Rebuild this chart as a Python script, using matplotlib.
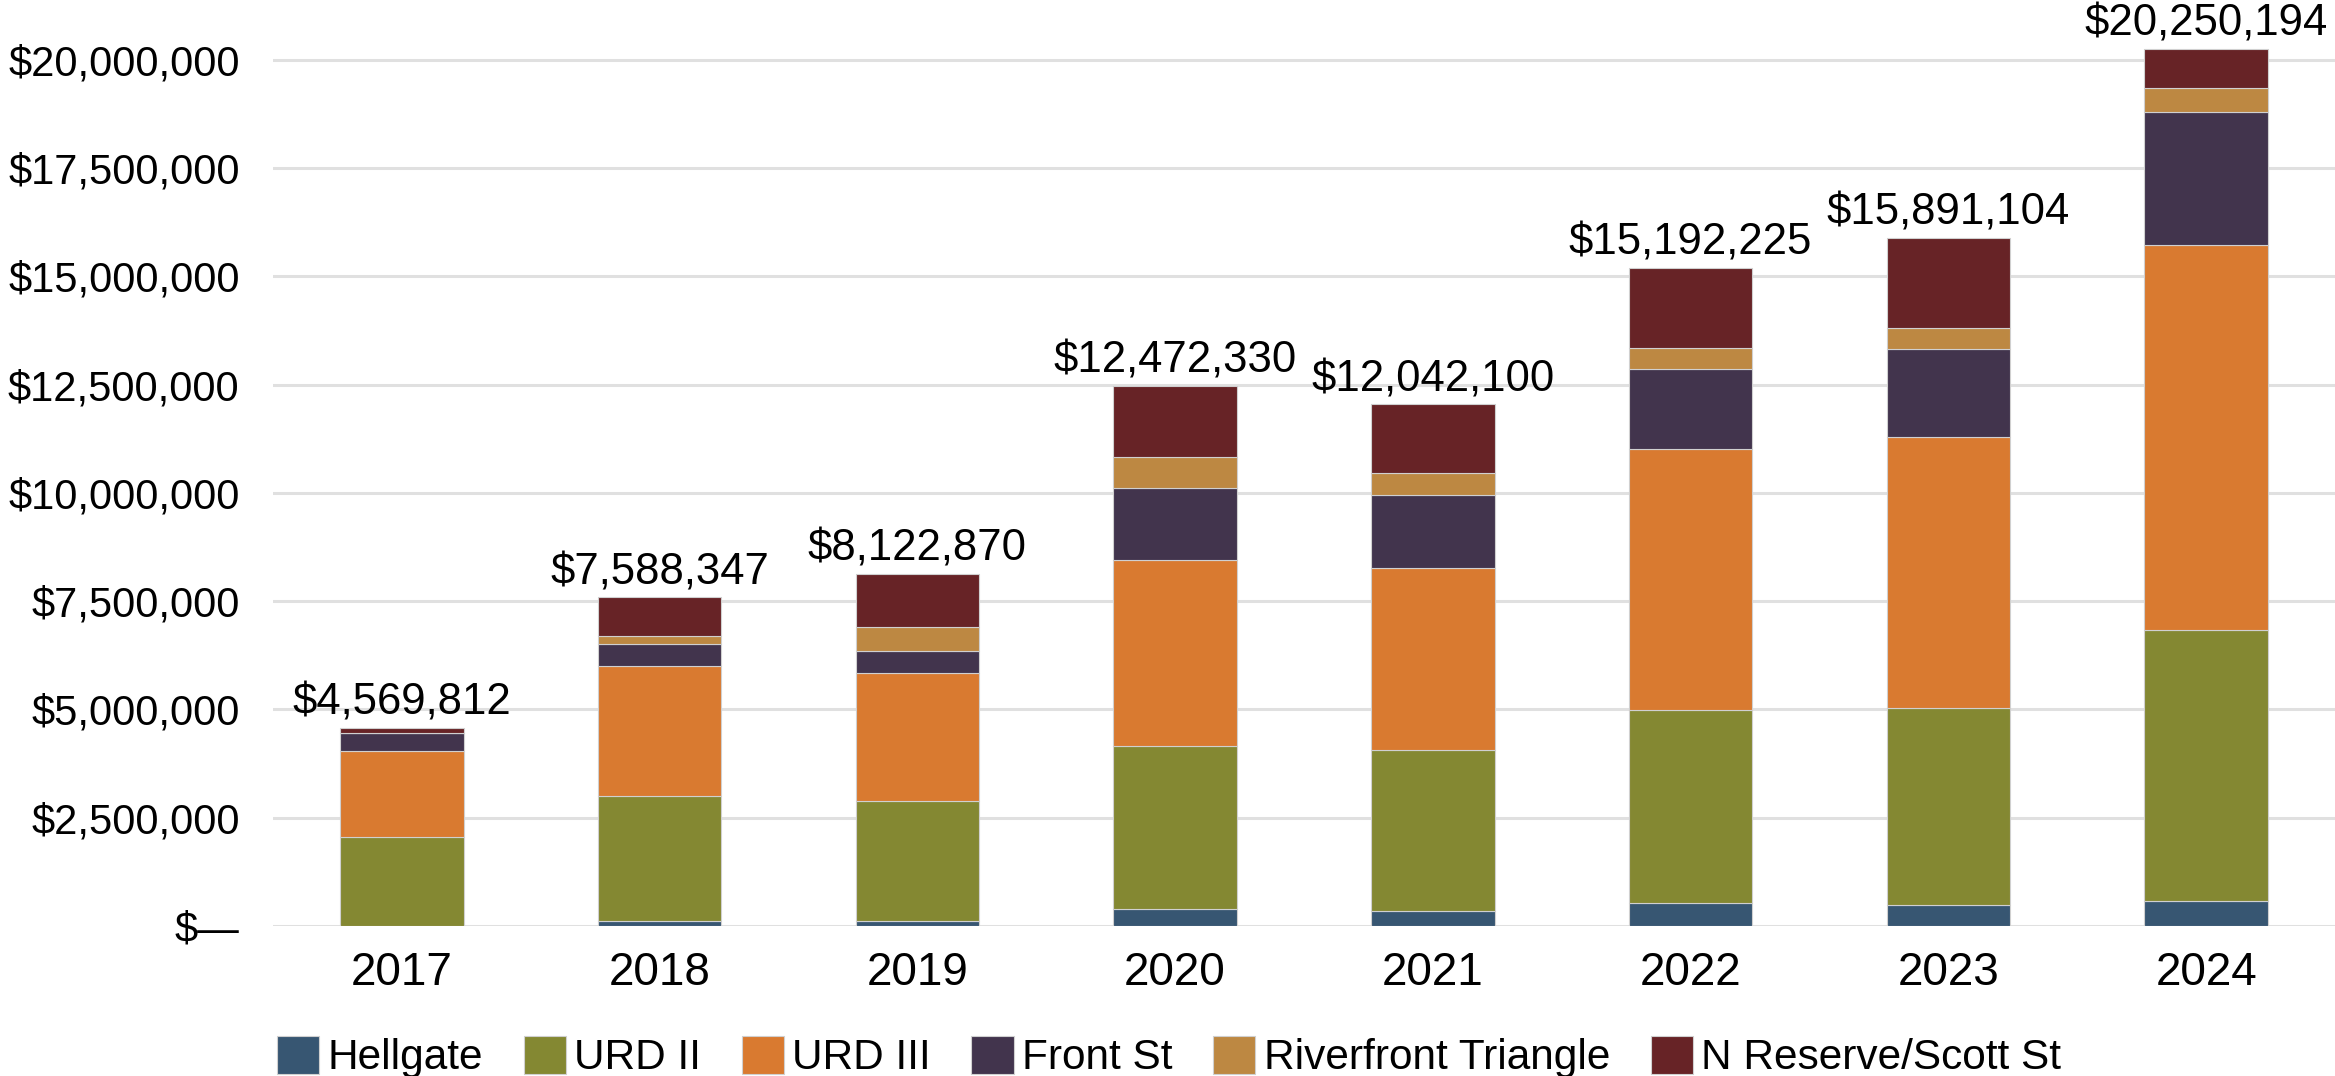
import matplotlib
matplotlib.use('Agg')
import matplotlib.pyplot as plt
from matplotlib.ticker import FuncFormatter
import numpy as np

years = ['2017', '2018', '2019', '2020', '2021', '2022', '2023', '2024']
districts = ['Hellgate', 'URD II', 'URD III', 'Front St', 'Riverfront Triangle', 'N Reserve/Scott St']
colors = ['#375672', '#848832', '#D97A30', '#42344D', '#BD8842', '#672326']

hellgate   = [0, 115000, 115000, 390000, 345000, 530000, 480000, 575000]
urd_ii     = [2060000, 2895000, 2760000, 3760000, 3725000, 4460000, 4560000, 6265000]
urd_iii    = [1990000, 3000000, 2970000, 4300000, 4200000, 6020000, 6240000, 8890000]
front_st   = [410000, 510000, 511000, 1666000, 1690000, 1840000, 2030000, 3060000]
riverfront = [0, 185000, 557000, 699000, 500000, 500000, 500000, 550000]
n_reserve  = [109812, 883347, 1209870, 1657330, 1582100, 1842225, 2081104, 910194]
totals     = [4569812, 7588347, 8122870, 12472330, 12042100, 15192225, 15891104, 20250194]

plt.rcParams['font.family'] = ['Liberation Sans', 'DejaVu Sans']

fig = plt.figure(figsize=(23.35, 10.76), dpi=100)
ax = fig.add_axes([273 / 2335, 150 / 1076, 1 - 273 / 2335, 926 / 1076])

x = np.arange(len(years))
series = [hellgate, urd_ii, urd_iii, front_st, riverfront, n_reserve]
bottom = np.zeros(len(years))
for name, vals, c in zip(districts, series, colors):
    ax.bar(x, vals, 0.48, bottom=bottom, color=c, label=name,
           edgecolor='#d0d0d0', linewidth=0.8, zorder=3)
    bottom += np.array(vals)

# total above each bar
for xi, t in zip(x, totals):
    ax.annotate('${:,.0f}'.format(t), (xi, t), xytext=(0, 3), textcoords='offset points',
                ha='center', va='bottom', fontsize=31.5, color='black')

ax.set_xlim(-0.5, 7.5)
ax.set_ylim(0, 21.376e6)
ax.set_yticks(np.arange(0, 20000001, 2500000))
ax.yaxis.set_major_formatter(FuncFormatter(lambda v, p: '$\u2014' if v == 0 else '${:,.0f}'.format(v)))
ax.set_xticks(x)
ax.set_xticklabels(years)
ax.tick_params(axis='y', length=0, pad=24, labelsize=30)
ax.tick_params(axis='x', length=0, pad=18, labelsize=33)
ax.grid(axis='y', color='#e0e0e0', linewidth=2.2, zorder=0)
for s in ax.spines.values():
    s.set_visible(False)

fig.legend(loc='center left', bbox_to_anchor=(277 / 2335, 19 / 1076), ncol=6, frameon=False,
           fontsize=30.5, handlelength=1.0, handleheight=1.0, handletextpad=0.2,
           columnspacing=0.95, borderpad=0, borderaxespad=0)

fig.savefig('out.png', dpi=100)
